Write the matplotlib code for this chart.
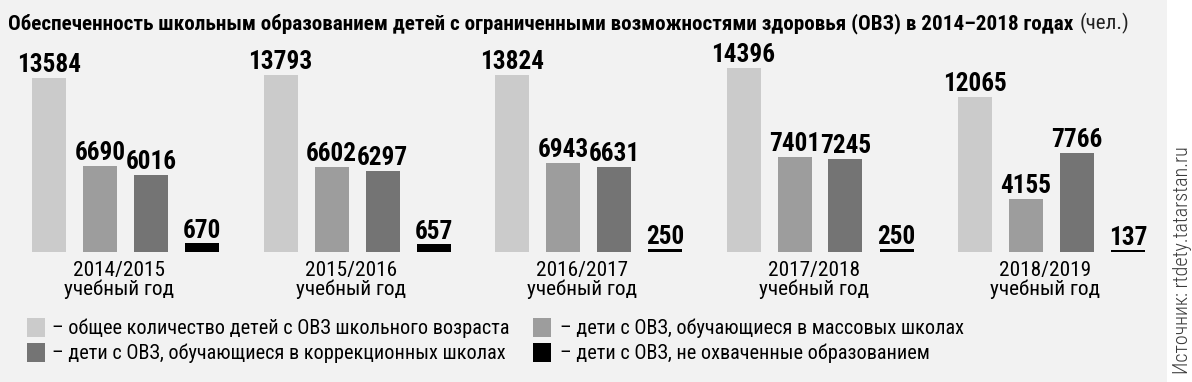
import matplotlib
matplotlib.use("Agg")
import matplotlib.pyplot as plt
from matplotlib import font_manager
from matplotlib.patches import Rectangle

# ---- data ----
years = ["2014/2015", "2015/2016", "2016/2017", "2017/2018", "2018/2019"]
year_suffix = "учебный год"
total = [13584, 13793, 13824, 14396, 12065]
mass_schools = [6690, 6602, 6943, 7401, 4155]
corr_schools = [6016, 6297, 6631, 7245, 7766]
not_covered = [670, 657, 250, 250, 137]
series_labels = [
    "– общее количество детей с ОВЗ школьного возраста",
    "– дети с ОВЗ, обучающиеся в массовых школах",
    "– дети с ОВЗ, обучающиеся в коррекционных школах",
    "– дети с ОВЗ, не охваченные образованием",
]
title_bold = "Обеспеченность школьным образованием детей с ограниченными возможностями здоровья (ОВЗ) в 2014–2018 годах"
title_unit = "(чел.)"
source = "Источник: rtdety.tatarstan.ru"

colors = ["#cbcbcb", "#9d9d9d", "#747474", "#000000"]

# ---- font choice: prefer a condensed family ----
ttf = font_manager.fontManager.ttflist
names = {f.name for f in ttf}
family, stretch = None, "normal"
for cand in ["Roboto Condensed", "Liberation Sans Narrow", "Open Sans Condensed",
             "Noto Sans Condensed", "DejaVu Sans Condensed", "Arial Narrow"]:
    if cand in names:
        family = cand
        break
if family is None:
    for fam in ["Noto Sans", "Open Sans", "DejaVu Sans", "Roboto"]:
        if any(f.name == fam and f.stretch in ("condensed", "semi-condensed", "extra-condensed")
               for f in ttf):
            family, stretch = fam, "condensed"
            break
if family is None:
    family = "Liberation Sans" if "Liberation Sans" in names else "DejaVu Sans"
plt.rcParams["font.family"] = [family, "DejaVu Sans"]
plt.rcParams["font.stretch"] = stretch

W, H = 1192, 382
fig = plt.figure(figsize=(W / 100, H / 100), dpi=100)
fig.patch.set_facecolor("white")
fig.patches.append(Rectangle((0, 0), 1167 / W, 1, transform=fig.transFigure,
                             facecolor="#f2f2f2", edgecolor="none", zorder=-10))
renderer = fig.canvas.get_renderer()


def fit_size(text, target_w, weight="normal", probe=20.0):
    t = fig.text(0, 0, text, fontsize=probe, fontweight=weight)
    w = t.get_window_extent(renderer).width
    t.remove()
    return probe * target_w / w


# axes geometry (pixels)
base_px = 130          # baseline from bottom
px_per_unit = 0.01281
group_step = 231.5
first_center = 49
bar_step = 51 / group_step
bar_w = 34 / group_step

ax = fig.add_axes([0, base_px / H, 1167 / W, (H - base_px) / H])
ax.set_facecolor("none")
ax.set_xlim(-first_center / group_step, (1167 - first_center) / group_step)
ax.set_ylim(0, (H - base_px) / px_per_unit)
ax.axis("off")

val_size = fit_size("13584", 64, "bold")
cat_size = fit_size("учебный год", 110)
leg_size = fit_size(series_labels[0], 456)
title_size = fit_size(title_bold, 1067, "bold")
src_size = fit_size(source, 228, "light")

series = [total, mass_schools, corr_schools, not_covered]
for j, (vals, c) in enumerate(zip(series, colors)):
    xs = [i + j * bar_step for i in range(len(years))]
    ax.bar(xs, vals, width=bar_w, color=c, linewidth=0, zorder=2)
    for x, v in zip(xs, vals):
        ax.annotate(str(v), (x, v), xytext=(0, 6 if j < 3 else 5), textcoords="offset pixels",
                    ha="center", va="baseline", fontsize=val_size, fontweight="bold",
                    color="black", zorder=3)

for i, y in enumerate(years):
    ax.annotate(f"{y}\n{year_suffix}", (i + 1.5 * bar_step - 6 / group_step, 0),
                xytext=(0, -9), textcoords="offset pixels", ha="center", va="top",
                fontsize=cat_size, linespacing=0.95, color="black")

# title
t1 = fig.text(8 / W, 1 - 29 / H, title_bold, fontsize=title_size, fontweight="bold",
              ha="left", va="baseline")
bb = t1.get_window_extent(renderer)
fig.text((bb.x1 + 6) / W, 1 - 29 / H, title_unit, fontsize=title_size,
         ha="left", va="baseline", color="#222222")

# legend (manual)
leg_pos = [(27, 318, 52), (533, 318, 560), (27, 343, 52), (533, 343, 560)]
for k, (sx, sy, tx) in enumerate(leg_pos):
    fig.patches.append(Rectangle((sx / W, 1 - (sy + 19) / H), 18 / W, 19 / H,
                                 transform=fig.transFigure, facecolor=colors[k],
                                 edgecolor="none", zorder=2))
    fig.text(tx / W, 1 - (sy + 10) / H, series_labels[k], fontsize=leg_size,
             ha="left", va="center")

fig.text(1183 / W, 1 - 260 / H, source, rotation=90, fontsize=src_size,
         fontweight="light", ha="center", va="center", color="#3a3a3a")

fig.savefig("out.png", dpi=100, facecolor=fig.get_facecolor())
